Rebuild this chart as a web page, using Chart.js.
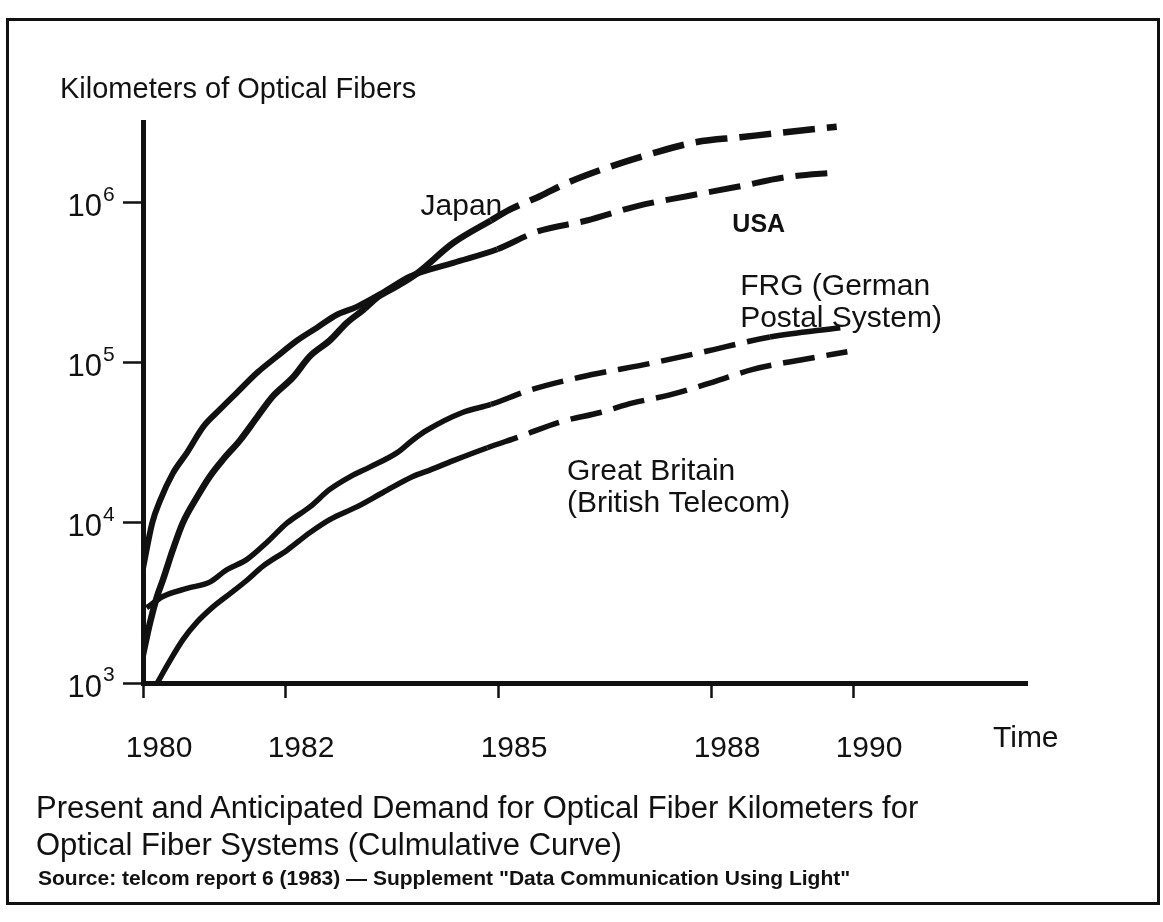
<!DOCTYPE html>
<html>
<head>
<meta charset="utf-8">
<script src="https://cdn.jsdelivr.net/npm/chart.js@4/dist/chart.umd.min.js"></script>
<style>
  html, body { margin: 0; padding: 0; background: #fff; }
  #wrap { position: relative; width: 1163px; height: 922px; overflow: hidden;
          font-family: "Liberation Sans", Arial, sans-serif; color: #111; }
  #frame { position: absolute; left: 6px; top: 18px; width: 1148px; height: 881px; border: 3px solid #111; }
  canvas { position: absolute; left: 0; top: 0; }
  .txt { position: absolute; white-space: nowrap; line-height: 1; }
</style>
</head>
<body>
<div id="wrap">
  <div id="frame"></div>
  <canvas id="fiberChart" width="1163" height="922"></canvas>
  <div class="txt" style="left:60px;top:74px;font-size:29px">Kilometers of Optical Fibers</div>
  <div class="txt" style="left:993px;top:722px;font-size:30px">Time</div>
  <div class="txt" style="left:36px;top:792px;font-size:31px">Present and Anticipated Demand for Optical Fiber Kilometers for</div>
  <div class="txt" style="left:36px;top:829px;font-size:31px">Optical Fiber Systems (Culmulative Curve)</div>
  <div class="txt" style="left:38px;top:867px;font-size:21px;font-weight:bold">Source: telcom report 6 (1983) — Supplement "Data Communication Using Light"</div>
</div>
<script>
// values (km of fibre, cumulative)
const japanYears = [1980.0, 1980.1, 1980.2, 1980.28, 1980.42, 1980.56, 1980.76, 1980.94, 1981.13, 1981.37, 1981.61, 1981.83,
  1982.11, 1982.35, 1982.63, 1982.87, 1983.1, 1983.3, 1983.58, 1983.86, 1984.37, 1984.9, 1985.17, 1985.59, 1985.97,
  1986.54, 1987.18, 1987.8, 1988.41, 1989.01, 1989.77];
const japanKm = [1500, 2400, 3500, 4400, 6800, 10000, 14500, 19500, 25000, 33000, 46000, 62000,
  81000, 110000, 138000, 178000, 214000, 257000, 302000, 363000, 562000, 776000, 910000, 1100000, 1330000,
  1660000, 2040000, 2400000, 2570000, 2750000, 2990000];

const usaYears = [1980.0, 1980.13, 1980.24, 1980.42, 1980.62, 1980.85, 1981.08, 1981.32, 1981.61, 1981.89, 1982.17,
  1982.45, 1982.73, 1983.01, 1983.38, 1983.76, 1984.37, 1984.99, 1985.55, 1986.25, 1986.96, 1987.66, 1988.37,
  1989.07, 1989.77];
const usaKm = [5200, 10000, 13800, 20400, 27500, 40000, 51000, 65000, 87000, 110000, 138000,
  166000, 200000, 224000, 275000, 347000, 422000, 513000, 661000, 776000, 955000, 1100000, 1260000,
  1450000, 1550000];

const frgYears = [1980.05, 1980.28, 1980.62, 1980.94, 1981.18, 1981.46, 1981.75, 1982.03, 1982.35, 1982.63, 1982.92,
  1983.2, 1983.58, 1983.8, 1984.0, 1984.5, 1984.9, 1985.45, 1986.15, 1987.18, 1987.89, 1988.83, 1989.82];
const frgKm = [2950, 3470, 3900, 4270, 5100, 5900, 7600, 10000, 12600, 16200, 19500,
  22400, 27500, 33000, 38000, 49000, 55000, 67600, 81300, 100000, 117000, 145000, 166000];

const gbYears = [1980.2, 1980.38, 1980.56, 1980.76, 1980.99, 1981.23, 1981.46, 1981.69, 1982.03, 1982.35, 1982.63,
  1983.01, 1983.38, 1983.8, 1984.04, 1984.37, 1984.85, 1985.31, 1985.87, 1986.44, 1986.9, 1987.42, 1988.03,
  1988.59, 1989.3, 1989.92];
const gbKm = [1000, 1380, 1860, 2400, 3000, 3630, 4370, 5370, 6760, 8700, 10500,
  12600, 15500, 19500, 21400, 24500, 29500, 34700, 42700, 49000, 56200, 63100, 75900,
  91200, 105000, 117500];

const tickYears = [1980, 1982, 1985, 1988, 1990];
const decadeTicks = [1e3, 1e4, 1e5, 1e6];

const INK = '#111';
const FONT = '"Liberation Sans", Arial, sans-serif';

function points(years, km) {
  return years.map((yr, i) => ({x: yr, y: km[i]}));
}

// forecast part of each curve is dashed
function dashed(from, to) {
  return c => (c.p0.parsed.x >= from && c.p0.parsed.x < to) ? [32, 12] : undefined;
}

function curve(label, years, km, width, from, to) {
  return {
    label: label,
    data: points(years, km),
    borderColor: INK,
    borderWidth: width,
    borderCapStyle: 'butt',
    pointRadius: 0,
    cubicInterpolationMode: 'monotone',
    segment: {borderDash: dashed(from, to === undefined ? 9999 : to)}
  };
}

// country names placed in data space, next to their curves
const seriesLabels = [
  {lines: ['Japan'], year: 1985.06, km: 841000, align: 'right', font: '30px ' + FONT, gap: 0},
  {lines: ['USA'], year: 1988.3, km: 661000, align: 'left', font: 'bold 25px ' + FONT, gap: 0},
  {lines: ['FRG (German', 'Postal System)'], year: 1988.41, km: 266000, align: 'left', font: '30px ' + FONT, gap: 32},
  {lines: ['Great Britain', '(British Telecom)'], year: 1985.97, km: 18600, align: 'left', font: '30px ' + FONT, gap: 32}
];

const figureText = {
  id: 'figureText',
  afterDraw(chart) {
    const {ctx, chartArea, scales: {x, y}} = chart;
    ctx.save();
    ctx.fillStyle = INK;
    ctx.textBaseline = 'middle';
    decadeTicks.forEach(v => {
      const py = y.getPixelForValue(v);
      ctx.font = '31px ' + FONT;
      ctx.textAlign = 'right';
      ctx.fillText('10', chartArea.left - 41, py + 5);
      ctx.font = '21px ' + FONT;
      ctx.textAlign = 'left';
      ctx.fillText(String(Math.round(Math.log10(v))), chartArea.left - 40, py - 8);
    });
    ctx.textBaseline = 'alphabetic';
    seriesLabels.forEach(l => {
      ctx.font = l.font;
      ctx.textAlign = l.align;
      const px = x.getPixelForValue(l.year);
      const py = y.getPixelForValue(l.km);
      l.lines.forEach((t, i) => ctx.fillText(t, px, py + i * l.gap));
    });
    ctx.restore();
  }
};

const chart = new Chart(document.getElementById('fiberChart').getContext('2d'), {
  type: 'line',
  data: {
    datasets: [
      curve('Japan', japanYears, japanKm, 6.5, 1984.9),
      curve('USA', usaYears, usaKm, 6, 1984.99),
      curve('FRG (German Postal System)', frgYears, frgKm, 5.5, 1984.9, 1988.8),
      curve('Great Britain (British Telecom)', gbYears, gbKm, 5.5, 1984.85)
    ]
  },
  options: {
    responsive: false,
    devicePixelRatio: 1,
    animation: false,
    layout: {padding: {left: 123, right: 136, top: 122, bottom: 159}},
    plugins: {legend: {display: false}, tooltip: {enabled: false}},
    scales: {
      x: {
        type: 'linear',
        min: 1980,
        max: 1992.45,
        afterBuildTicks: s => { s.ticks = tickYears.map(v => ({value: v})); },
        afterFit: s => { s.height = 80; },
        border: {display: true, color: INK, width: 5},
        grid: {drawOnChartArea: false, drawTicks: true, tickLength: 15, tickWidth: 2.5, color: INK},
        ticks: {
          callback: v => String(v),
          color: INK,
          font: {size: 30, family: FONT},
          padding: 33,
          labelOffset: 16,
          maxRotation: 0,
          autoSkip: false
        }
      },
      y: {
        type: 'logarithmic',
        min: 1000,
        max: 3.2e6,
        afterBuildTicks: s => { s.ticks = decadeTicks.map(v => ({value: v})); },
        afterFit: s => { s.width = 20; },
        border: {display: true, color: INK, width: 5},
        grid: {drawOnChartArea: false, drawTicks: true, tickLength: 20, tickWidth: 2.5, color: INK},
        ticks: {display: false}
      }
    }
  },
  plugins: [figureText]
});
</script>
</body>
</html>
